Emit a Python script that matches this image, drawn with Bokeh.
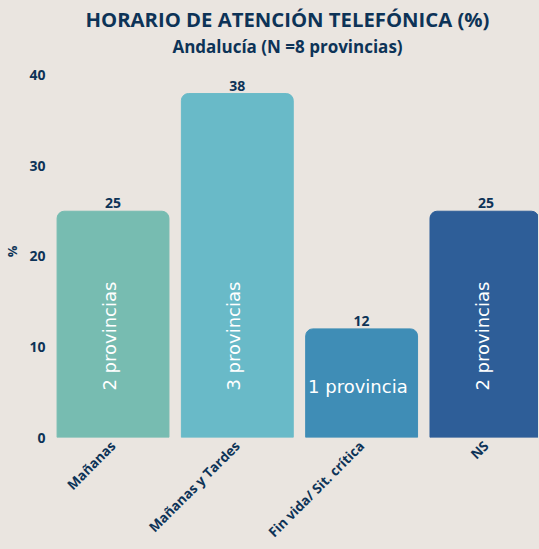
import math
from bokeh.plotting import figure
from bokeh.layouts import column
from bokeh.models import ColumnDataSource, Div, FixedTicker, Range1d
from bokeh.core.properties import value
from bokeh.embed import file_html
from bokeh.resources import INLINE

categories = ["Mañanas", "Mañanas y Tardes", "Fin vida/ Sit. crítica", "NS"]
values = [25, 38, 12, 25]
inner_labels = ["2 provincias", "3 provincias", "1 provincia", "2 provincias"]
colors = ["#77BCB1", "#69BAC8", "#3F8DB6", "#2E5E98"]
y_ticks = [0, 10, 20, 30, 40]
title = "HORARIO DE ATENCIÓN TELEFÓNICA (%)"
subtitle = "Andalucía (N =8 provincias)"

BG = "#EAE5E0"
NAVY = "#0D3357"

idx = list(range(len(categories)))
src = ColumnDataSource(dict(x=idx, top=values, color=colors, lab=[str(v) for v in values]))

head_html = (
    '<div style="position:relative;width:531px;height:55px;">'
    '<div style="position:absolute;left:282.5px;top:3.7px;transform:translateX(-50%%);'
    'white-space:nowrap;font-family:\'Open Sans\';font-weight:bold;font-size:20.3px;'
    'line-height:1;color:%s;">%s</div>'
    '<div style="position:absolute;left:282.5px;top:33px;transform:translateX(-50%%);'
    'white-space:nowrap;font-family:\'Open Sans\';font-weight:bold;font-size:17px;'
    'line-height:1;color:%s;">%s</div>'
    '</div>'
) % (NAVY, title, NAVY, subtitle)
head = Div(text=head_html, width=531, height=55)

p = figure(frame_width=488, frame_height=372,
           x_range=Range1d(-0.503, 3.423), y_range=Range1d(0, 41.1),
           output_backend="svg", toolbar_location=None,
           background_fill_color=None, border_fill_color=None,
           min_border_left=43, min_border_right=0, min_border_top=0, min_border_bottom=0,
           outline_line_color=None)
p.title = None

p.vbar(x="x", top="top", bottom=0, width=0.9, color="color", source=src,
       border_radius=(7, 7, 0, 0))

p.text(x="x", y="top", text="lab", source=src, text_align="center",
       text_baseline="bottom", y_offset=-3, text_font=value("Open Sans"),
       text_font_size="14px", text_font_style="bold", text_color=NAVY)

# inner labels
rot_idx = [i for i in idx if i != 2]
p.text(x=[idx[i] - 0.03 for i in rot_idx], y=[11.2] * len(rot_idx),
       text=[inner_labels[i] for i in rot_idx], angle=math.pi / 2,
       text_align="center", text_baseline="middle",
       text_font=value("DejaVu Sans"), text_font_size="18px", text_color="white")
p.text(x=[idx[2] - 0.03], y=[5.6], text=[inner_labels[2]],
       text_align="center", text_baseline="middle",
       text_font=value("DejaVu Sans"), text_font_size="18px", text_color="white")

p.xgrid.grid_line_color = None
p.ygrid.grid_line_color = None

p.xaxis.ticker = FixedTicker(ticks=idx)
p.xaxis.major_label_overrides = {i: c for i, c in zip(idx, categories)}
p.xaxis.major_label_orientation = math.pi / 4
p.xaxis.major_label_standoff = 6

p.yaxis.ticker = FixedTicker(ticks=y_ticks)
p.yaxis.axis_label = "%"
p.yaxis.axis_label_standoff = 5
p.yaxis.major_label_standoff = 5

for ax in (p.xaxis[0], p.yaxis[0]):
    ax.axis_line_color = None
    ax.major_tick_line_color = None
    ax.minor_tick_line_color = None
    ax.major_tick_out = 0
    ax.major_tick_in = 0
    ax.minor_tick_out = 0
    ax.minor_tick_in = 0
    ax.major_label_text_font = "Open Sans"
    ax.major_label_text_font_style = "bold"
    ax.major_label_text_font_size = "13.5px"
    ax.major_label_text_color = NAVY
p.yaxis.major_label_text_font_size = "14px"
p.yaxis.axis_label_text_font = "Open Sans"
p.yaxis.axis_label_text_font_style = "bold"
p.yaxis.axis_label_text_font_size = "13px"
p.yaxis.axis_label_text_color = NAVY

layout = column(head, p, spacing=0)
html = file_html(layout, INLINE)
html = html.replace("</head>", "<style>html, body { background-color: %s; }</style>\n</head>" % BG, 1)
open("out.html", "w").write(html)
